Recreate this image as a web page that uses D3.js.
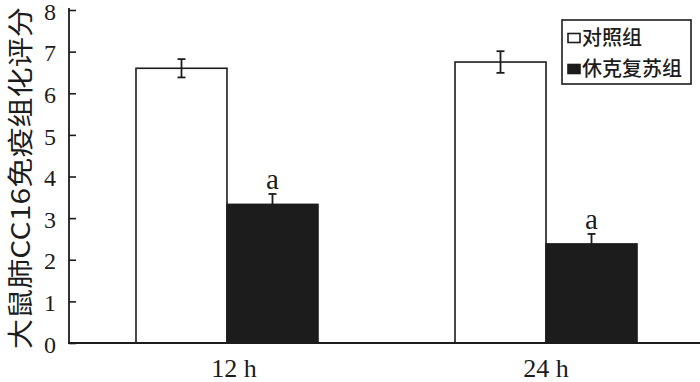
<!DOCTYPE html>
<html><head><meta charset="utf-8">
<script src="https://cdn.jsdelivr.net/npm/d3@7"></script>
<style>body{margin:0;background:#fff}</style>
</head><body>
<svg id="c" width="700" height="382"></svg>
<script>
const categories = ["12 h", "24 h"];
const seriesNames = ["对照组", "休克复苏组"];
const controlValues = [6.6, 6.75];
const controlErrors = [0.22, 0.26];
const shockValues = [3.33, 2.38];
const shockErrors = [0.25, 0.24];
const shockMarks = ["a", "a"];
const yTicks = [0,1,2,3,4,5,6,7,8];

const svg = d3.select("#c");
const x0 = d3.scaleBand().domain(categories).range([69, 704]).paddingInner(0.4295).paddingOuter(0.21);
const x1 = d3.scaleBand().domain(seriesNames).range([0, x0.bandwidth()]);
const y = d3.scaleLinear().domain([0, 8]).range([343, 10]);

const serif = "'Liberation Serif','Times New Roman',serif";
const cjk = "'Noto Sans CJK SC','Noto Sans',sans-serif";

const data = categories.map((c, i) => ({
  cat: c,
  vals: [
    {s: seriesNames[0], v: controlValues[i], e: controlErrors[i], m: ""},
    {s: seriesNames[1], v: shockValues[i], e: shockErrors[i], m: shockMarks[i]}
  ]
}));
const fills = {"对照组": "#ffffff", "休克复苏组": "#1c1c1c"};

const g = svg.append("g");
const grp = g.selectAll("g.grp").data(data).enter().append("g")
  .attr("transform", d => `translate(${x0(d.cat)},0)`);

grp.selectAll("rect").data(d => d.vals).enter().append("rect")
  .attr("x", d => x1(d.s))
  .attr("y", d => y(d.v))
  .attr("width", x1.bandwidth())
  .attr("height", d => y(0) - y(d.v))
  .attr("fill", d => fills[d.s])
  .attr("stroke", "#1c1c1c")
  .attr("stroke-width", 1.6);

// error bars
const eb = grp.selectAll("g.eb").data(d => d.vals).enter().append("g")
  .attr("stroke", "#1c1c1c").attr("stroke-width", 1.8);
eb.append("line")
  .attr("x1", d => x1(d.s) + x1.bandwidth()/2).attr("x2", d => x1(d.s) + x1.bandwidth()/2)
  .attr("y1", d => y(d.v + d.e)).attr("y2", d => d.s === seriesNames[1] ? y(d.v) : y(d.v - d.e));
eb.append("line")
  .attr("x1", d => x1(d.s) + x1.bandwidth()/2 - 4).attr("x2", d => x1(d.s) + x1.bandwidth()/2 + 4)
  .attr("y1", d => y(d.v + d.e)).attr("y2", d => y(d.v + d.e));
eb.filter(d => d.s !== seriesNames[1]).append("line")
  .attr("x1", d => x1(d.s) + x1.bandwidth()/2 - 4).attr("x2", d => x1(d.s) + x1.bandwidth()/2 + 4)
  .attr("y1", d => y(d.v - d.e)).attr("y2", d => y(d.v - d.e));

// significance marks
grp.selectAll("text.m").data(d => d.vals.filter(v => v.m)).enter().append("text")
  .attr("x", d => x1(d.s) + x1.bandwidth()/2)
  .attr("y", d => y(d.v + d.e) - 5)
  .attr("text-anchor", "middle")
  .attr("font-family", serif).attr("font-size", 29)
  .attr("fill", "#1c1c1c")
  .text(d => d.m);

// axes
const yAxis = d3.axisRight(y).tickValues(yTicks).tickSize(7).tickFormat(d3.format("d"));
const ya = svg.append("g").attr("transform", "translate(69,0)").call(yAxis);
ya.select(".domain").attr("stroke", "#1c1c1c").attr("stroke-width", 1.8).attr("d", "M0,8V343");
ya.selectAll(".tick line").attr("stroke", "#1c1c1c").attr("stroke-width", 1.6);
ya.selectAll(".tick text").attr("x", -13).attr("text-anchor", "end")
  .attr("font-family", serif).attr("font-size", 24).attr("fill", "#1c1c1c").attr("dy", "0.38em");

const xAxis = d3.axisBottom(x0).tickSize(0).tickPadding(0);
const xa = svg.append("g").attr("transform", "translate(0,343)").call(xAxis);
xa.select(".domain").attr("stroke", "#1c1c1c").attr("stroke-width", 1.8).attr("d", "M68,0H700");
xa.selectAll(".tick text").attr("font-family", serif).attr("font-size", 26).attr("fill", "#1c1c1c")
  .attr("y", 34).attr("dy", 0).attr("dx", d => d === categories[0] ? 7 : 0);

// y label
svg.append("text")
  .attr("transform", "translate(30,178) rotate(-90)")
  .attr("text-anchor", "middle")
  .attr("font-family", cjk).attr("font-size", 26).attr("fill", "#1c1c1c")
  .attr("textLength", 342).attr("lengthAdjust", "spacingAndGlyphs")
  .text("大鼠肺CC16免疫组化评分");

// legend
const lg = svg.append("g");
lg.append("rect").attr("x", 562).attr("y", 20).attr("width", 129).attr("height", 64)
  .attr("fill", "#fff").attr("stroke", "#1c1c1c").attr("stroke-width", 1.6);
const li = lg.selectAll("g.li").data(seriesNames).enter().append("g")
  .attr("transform", (d, i) => `translate(568,${38 + i * 31})`);
li.append("rect").attr("x", 0).attr("y", -4.5).attr("width", 12).attr("height", 9)
  .attr("fill", d => fills[d]).attr("stroke", "#1c1c1c").attr("stroke-width", 1.6);
li.append("text").attr("x", 14).attr("y", 0).attr("dy", "0.36em")
  .attr("font-family", cjk).attr("font-size", 20).attr("font-weight", 500).attr("fill", "#1c1c1c")
  .text(d => d);
</script>
</body></html>
